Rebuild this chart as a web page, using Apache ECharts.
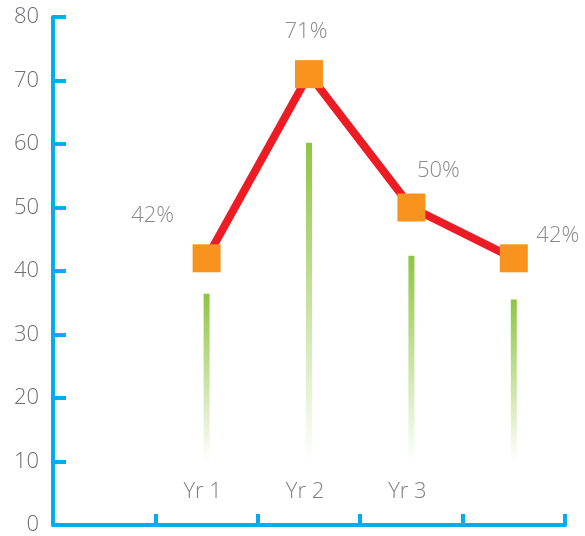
<!DOCTYPE html>
<html>
<head>
<meta charset="utf-8">
<script src="https://cdn.jsdelivr.net/npm/echarts@6/dist/echarts.min.js"></script>
<style>
  html, body { margin: 0; padding: 0; background: #fff; }
  #main { width: 585px; height: 536px; }
</style>
</head>
<body>
<div id="main"></div>
<script>
// chart data
var categories = ['', 'Yr 1', 'Yr 2', 'Yr 3', ''];
var lineValues = [null, 42, 71, 50, 42];
var barTops = [null, 36.4, 60.2, 42.4, 35.5];
var barBase = 10;
var yTicks = { min: 0, max: 80, interval: 10 };

// where each % label sits around its marker
var labelOffsets = [[0, 0], [-54, -43], [-3, -42], [27, -37], [44, -23]];

var chart = echarts.init(document.getElementById('main'));

var blue = '#00aeef';
var font = '"Open Sans", sans-serif';

chart.setOption({
  animation: false,
  grid: { left: 53, right: 20, top: 17, bottom: 9, containLabel: false },
  xAxis: {
    type: 'category',
    data: categories,
    boundaryGap: true,
    axisLine: { lineStyle: { color: blue, width: 4 } },
    axisTick: { show: true, inside: true, length: 11, interval: 0, lineStyle: { color: blue, width: 4 } },
    axisLabel: {
      margin: -44,
      padding: [0, 8, 0, 0],
      color: '#7f7f7f',
      fontSize: 22,
      fontWeight: 300,
      fontFamily: font,
      interval: 0
    },
    splitLine: { show: false }
  },
  yAxis: {
    type: 'value',
    min: yTicks.min,
    max: yTicks.max,
    interval: yTicks.interval,
    axisLine: { show: true, lineStyle: { color: blue, width: 4 } },
    axisTick: { show: true, inside: true, length: 13, lineStyle: { color: blue, width: 4 } },
    axisLabel: { margin: 14, color: '#6d6e71', fontSize: 22, fontWeight: 300, fontFamily: font },
    splitLine: { show: false }
  },
  series: [
    {
      type: 'bar',
      stack: 'b',
      barWidth: 6,
      silent: true,
      itemStyle: { color: 'transparent' },
      data: barTops.map(function (v) { return v == null ? null : barBase; })
    },
    {
      type: 'bar',
      stack: 'b',
      barWidth: 6,
      itemStyle: {
        color: new echarts.graphic.LinearGradient(0, 0, 0, 1, [
          { offset: 0, color: '#8dc63f' },
          { offset: 1, color: 'rgba(141,198,63,0)' }
        ])
      },
      data: barTops.map(function (v) { return v == null ? null : v - barBase; })
    },
    {
      type: 'line',
      symbol: 'rect',
      symbolSize: 28,
      z: 5,
      lineStyle: { color: '#ed1c24', width: 8 },
      itemStyle: { color: '#f7931e' },
      data: lineValues.map(function (v, i) {
        return {
          value: v,
          label: {
            show: v != null,
            position: 'inside',
            offset: labelOffsets[i] || [0, 0],
            formatter: '{c}%',
            color: '#8a8a8a',
            fontSize: 22,
            fontWeight: 300,
            fontFamily: font
          }
        };
      })
    }
  ]
});
</script>
</body>
</html>
